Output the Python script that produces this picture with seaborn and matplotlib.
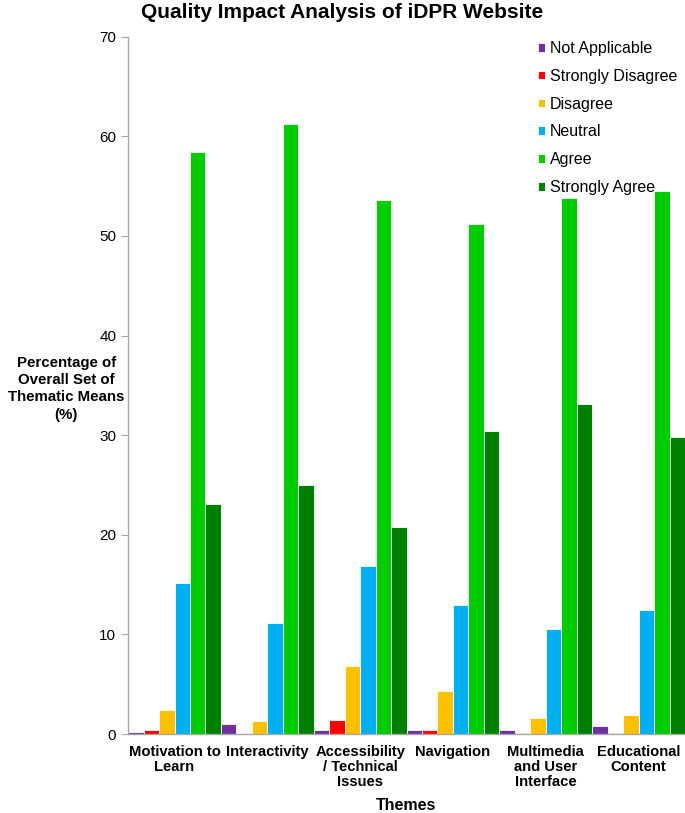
import pandas as pd
import seaborn as sns
import matplotlib.pyplot as plt

themes = ['Motivation to\nLearn', 'Interactivity', 'Accessibility\n/ Technical\nIssues',
          'Navigation', 'Multimedia\nand User\nInterface', 'Educational\nContent']
responses = ['Not Applicable', 'Strongly Disagree', 'Disagree', 'Neutral', 'Agree', 'Strongly Agree']

not_applicable = [0.2, 1.0, 0.4, 0.4, 0.4, 0.85]
strongly_disagree = [0.4, 0.0, 1.4, 0.4, 0.15, 0.1]
disagree = [2.4, 1.35, 6.8, 4.3, 1.65, 1.95]
neutral = [15.2, 11.2, 16.9, 13.0, 10.6, 12.5]
agree = [58.4, 61.2, 53.6, 51.2, 53.8, 54.5]
strongly_agree = [23.1, 25.0, 20.8, 30.4, 33.1, 29.85]

colores = ['#7030A0', '#FF0000', '#FFC000', '#00B0F0', '#00CC00', '#008000']

series = [not_applicable, strongly_disagree, disagree, neutral, agree, strongly_agree]
filas = []
for resp, vals in zip(responses, series):
    for tema, v in zip(themes, vals):
        filas.append({'Theme': tema, 'Response': resp, 'Value': v})
df = pd.DataFrame(filas)

sns.set_style('white')
plt.rcParams['font.family'] = ['Liberation Sans', 'DejaVu Sans']
plt.rcParams['text.color'] = 'black'
plt.rcParams['axes.labelcolor'] = 'black'
plt.rcParams['xtick.color'] = 'black'
plt.rcParams['ytick.color'] = 'black'

fig = plt.figure(figsize=(6.85, 8.13), dpi=100)
ax = fig.add_axes([0.187, 0.097, 0.813, 0.858])
sns.barplot(data=df, x='Theme', y='Value', hue='Response', hue_order=responses,
            palette=colores, width=1.0, edgecolor='white', linewidth=0.6,
            saturation=1, ax=ax)

ax.set_xlim(-0.5, 5.5)
ax.set_ylim(0, 70)
ax.set_yticks(range(0, 71, 10))
ax.tick_params(axis='y', labelsize=11, length=5, color='#A6A6A6', labelcolor='black',
               left=True, direction='out')
ax.tick_params(axis='x', length=0, pad=8, labelcolor='black')
for lab in ax.get_xticklabels():
    lab.set_fontweight('bold')
    lab.set_fontsize(10.6)
    lab.set_verticalalignment('top')
    lab.set_linespacing(1.1)

for s in ['top', 'right']:
    ax.spines[s].set_visible(False)
for s in ['left', 'bottom']:
    ax.spines[s].set_color('#A6A6A6')
    ax.spines[s].set_linewidth(1)

ax.set_xlabel('Themes', fontsize=11.5, fontweight='bold', labelpad=6, color='black')
ax.set_ylabel('Percentage of\nOverall Set of\nThematic Means\n(%)', fontsize=10.8,
              fontweight='bold', rotation=0, ha='center', va='center', linespacing=1.3,
              color='black')
ax.yaxis.set_label_coords(-0.111, 0.495)

fig.suptitle('Quality Impact Analysis of iDPR Website', fontsize=15, fontweight='bold',
             x=0.5, y=0.996, va='top', color='black')

ax.legend(loc='upper right', bbox_to_anchor=(1.0, 1.005), frameon=False, fontsize=11.5,
          handlelength=0.45, handleheight=0.45, handletextpad=0.3, labelspacing=0.8,
          borderaxespad=0.1, labelcolor='black')

plt.savefig('out.png', dpi=100)
